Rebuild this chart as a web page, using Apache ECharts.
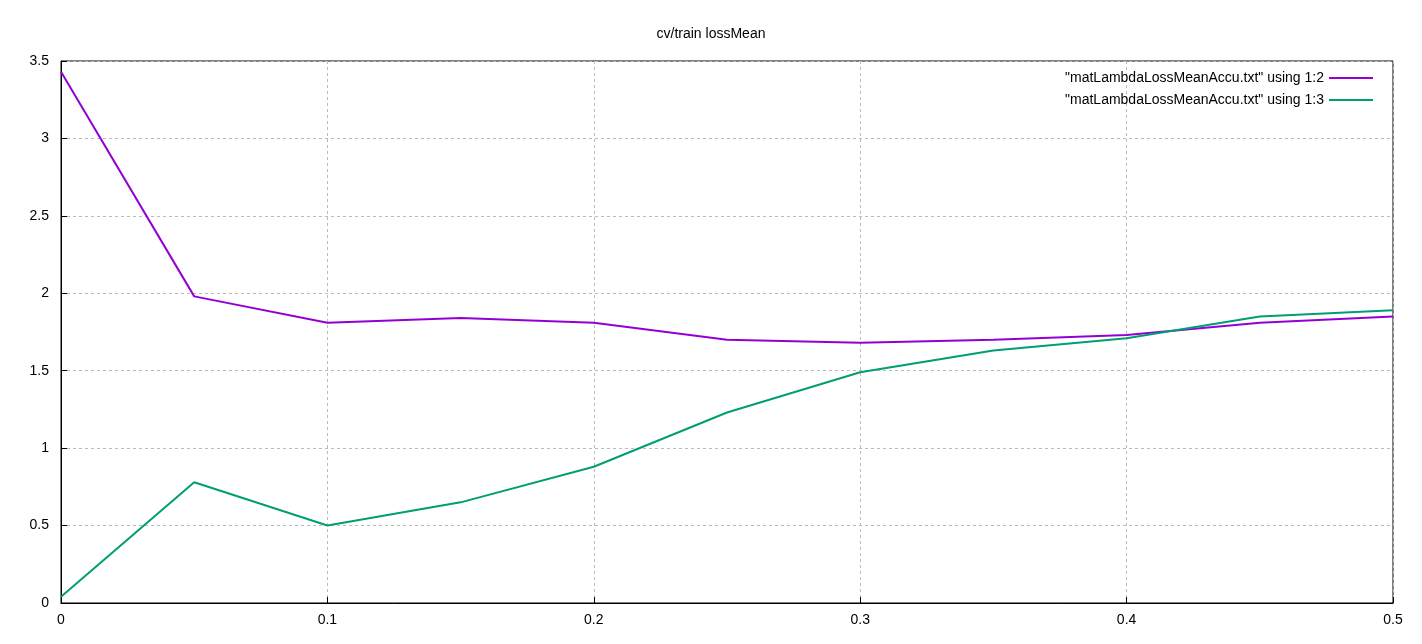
<!DOCTYPE html>
<html>
<head>
<meta charset="utf-8">
<script src="https://cdn.jsdelivr.net/npm/echarts@6/dist/echarts.min.js"></script>
<style>html,body{margin:0;padding:0;background:#fff}#chart{width:1422px;height:644px}</style>
</head>
<body>
<div id="chart"></div>
<script>
var lambdas = [0, 0.05, 0.1, 0.15, 0.2, 0.25, 0.3, 0.35, 0.4, 0.45, 0.5];
var col2 = [3.43, 1.98, 1.81, 1.84, 1.81, 1.70, 1.68, 1.70, 1.73, 1.81, 1.85];
var col3 = [0.04, 0.78, 0.50, 0.65, 0.88, 1.23, 1.49, 1.63, 1.71, 1.85, 1.89];
var names = ['"matLambdaLossMeanAccu.txt" using 1:2', '"matLambdaLossMeanAccu.txt" using 1:3'];

function pairs(ys) {
  return lambdas.map(function (x, i) { return [x, ys[i]]; });
}

var font = 'Liberation Sans, Arial, sans-serif';
var chart = echarts.init(document.getElementById('chart'));
chart.setOption({
  animation: false,
  title: {
    text: 'cv/train lossMean', left: 'center', top: 22,
    textStyle: { fontSize: 14, fontWeight: 'normal', color: '#000', fontFamily: font }
  },
  legend: {
    orient: 'vertical', right: 44, top: 66, align: 'right',
    itemWidth: 44, itemHeight: 2, itemGap: 8, icon: 'rect',
    textStyle: { fontSize: 14, color: '#000', fontFamily: font },
    data: names
  },
  grid: { left: 61, right: 29, top: 61, bottom: 41, show: true, borderColor: '#000', borderWidth: 1 },
  xAxis: {
    type: 'value', min: 0, max: 0.5, interval: 0.1,
    axisLine: { lineStyle: { color: '#000' } },
    axisTick: { inside: true, length: 6, lineStyle: { color: '#000' } },
    axisLabel: { color: '#000', fontSize: 14, fontFamily: font, margin: 10 },
    splitLine: { show: true, lineStyle: { color: '#bbb', type: [3, 3] } }
  },
  yAxis: {
    type: 'value', min: 0, max: 3.5, interval: 0.5,
    axisLine: { show: true, lineStyle: { color: '#000' } },
    axisTick: { show: true, inside: true, length: 6, lineStyle: { color: '#000' } },
    axisLabel: { color: '#000', fontSize: 14, fontFamily: font, margin: 12 },
    splitLine: { show: true, lineStyle: { color: '#bbb', type: [3, 3] } }
  },
  series: [
    { name: names[0], type: 'line', data: pairs(col2), symbol: 'none', color: '#9400d3', lineStyle: { width: 2 } },
    { name: names[1], type: 'line', data: pairs(col3), symbol: 'none', color: '#009e73', lineStyle: { width: 2 } }
  ]
});
</script>
</body>
</html>
